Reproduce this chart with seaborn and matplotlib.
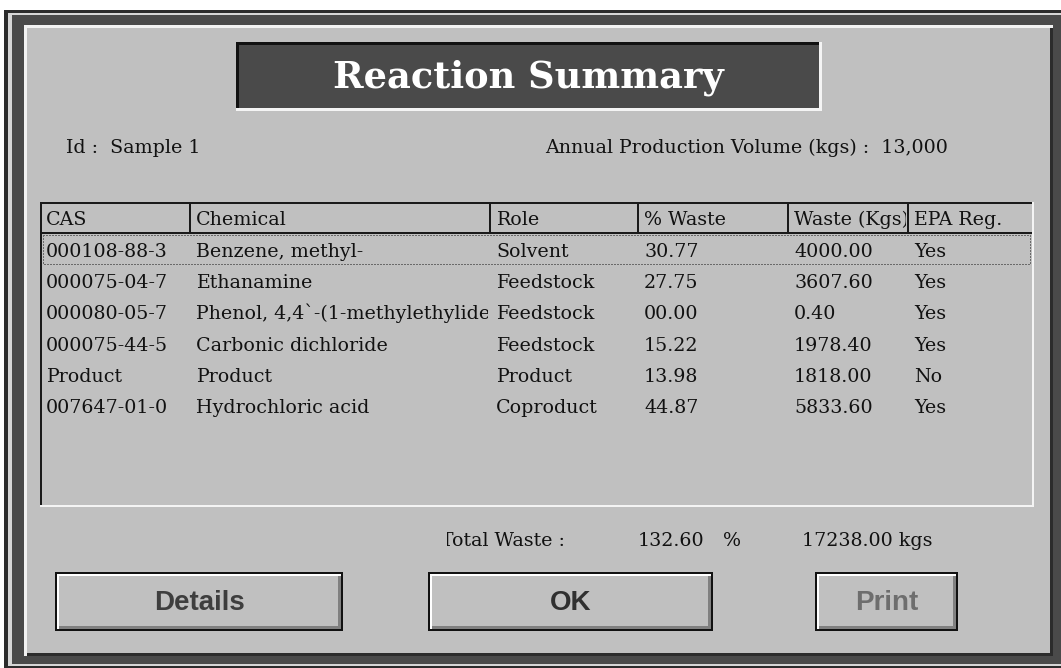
import pandas as pd
import seaborn as sns
import matplotlib.pyplot as plt
from matplotlib.patches import Rectangle
from matplotlib.transforms import Bbox

# Reaction summary data (read from the dialog)
sample_id = 'Sample 1'
annual_volume = '13,000'
headers = ['CAS', 'Chemical', 'Role', '% Waste', 'Waste (Kgs)', 'EPA Reg.']
cas = ['000108-88-3', '000075-04-7', '000080-05-7', '000075-44-5', 'Product', '007647-01-0']
chemicals = ['Benzene, methyl-', 'Ethanamine', 'Phenol, 4,4`-(1-methylethylidene)bis-',
             'Carbonic dichloride', 'Product', 'Hydrochloric acid']
roles = ['Solvent', 'Feedstock', 'Feedstock', 'Feedstock', 'Product', 'Coproduct']
pct_waste = [30.77, 27.75, 0.00, 15.22, 13.98, 44.87]
waste_kgs = [4000.00, 3607.60, 0.40, 1978.40, 1818.00, 5833.60]
epa_reg = ['Yes', 'Yes', 'Yes', 'Yes', 'No', 'Yes']
total_pct = 132.60
total_kgs = 17238.00
buttons = ['Details', 'OK', 'Print']

df = pd.DataFrame({'CAS': cas, 'Chemical': chemicals, 'Role': roles,
                   '% Waste': ['{:05.2f}'.format(v) for v in pct_waste],
                   'Waste (Kgs)': ['{:.2f}'.format(v) for v in waste_kgs],
                   'EPA Reg.': epa_reg})

sns.set_theme(style='white')
plt.rcParams['font.family'] = ['DejaVu Serif']

W, H = 1061, 668
GRAY = '#c0c0c0'
DARK = '#4a4a4a'
SERIF = 13.7

fig = plt.figure(figsize=(W / 100, H / 100), dpi=100)
ax = fig.add_axes([0, 0, 1, 1])
ax.set_xlim(0, W)
ax.set_ylim(H, 0)
ax.axis('off')
fig.patch.set_facecolor('white')


def box(x0, y0, x1, y1, color, **kw):
    ax.add_patch(Rectangle((x0, y0), x1 - x0, y1 - y0, facecolor=color,
                           edgecolor='none', antialiased=False, **kw))


def label(x, y, s, clip=None, **kw):
    kw.setdefault('fontsize', SERIF)
    kw.setdefault('color', '#111111')
    t = ax.text(x, y, s, va='baseline', **kw)
    if clip is not None:
        x0, y0, x1, y1 = clip
        t.set_clip_path(None)
        t.set_clip_box(Bbox.from_extents(x0, H - y1, x1, H - y0))
        t.set_clip_on(True)
    return t


# window frame
box(4, 10, W, H, '#2c2c2c')
box(8, 13, W, 666, '#d6d6d6')
box(12, 15, W, 664, DARK)
box(24, 25, 1053, 656, '#f2f2f2')
box(27, 28, 1053, 656, '#2c2c2c')
box(27, 28, 1050, 653, GRAY)

# title banner
box(236, 42, 822, 111, '#f4f4f4')
box(236, 42, 819, 108, '#111111')
box(239, 45, 819, 108, DARK)
label(528, 87, 'Reaction Summary', ha='center', color='white',
      fontsize=26.5, fontweight='bold')

label(66, 153, 'Id :  ' + sample_id)
label(545, 153, 'Annual Production Volume (kgs) :  ' + annual_volume)

# table
tx0, ty0, tx1, ty1 = 40, 202, 1034, 507
box(tx0, ty0, tx1, ty1, '#f4f4f4')
box(tx0, ty0, tx1 - 2, ty1 - 2, '#1a1a1a')
box(tx0 + 2, ty0 + 2, tx1 - 2, ty1 - 2, GRAY)
col_edges = [tx0, 190, 490, 638, 788, 908, tx1 - 2]
box(tx0 + 2, 232, tx1 - 2, 234, '#1a1a1a')
for cx in col_edges[1:-1]:
    box(cx - 1, ty0 + 2, cx + 1, 233, '#1a1a1a')

for j, h in enumerate(headers):
    label(col_edges[j] + 6, 225, h, clip=(col_edges[j], ty0, col_edges[j + 1] - 2, 233))

row_base = 257
row_step = 31.2
for i, row in df.iterrows():
    y = row_base + i * row_step
    for j, h in enumerate(headers):
        label(col_edges[j] + 6, y, row[h],
              clip=(col_edges[j], 234, col_edges[j + 1] - 2, ty1 - 2))

# focus rectangle around first row
ax.add_patch(Rectangle((43, 235), tx1 - 47, 29, facecolor='none', edgecolor='#6a6a6a',
                       linewidth=0.8, linestyle=(0, (1, 1.5)), antialiased=False))

# totals
label(441, 546, 'Total Waste :', clip=(447, 520, 600, 560))
label(638, 546, '{:.2f}'.format(total_pct))
label(723, 546, '%')
label(802, 546, '{:.2f} kgs'.format(total_kgs))

# buttons
btn_boxes = [(55, 572, 343, 631), (428, 572, 713, 631), (815, 572, 958, 631)]
btn_colors = ['#3e3e3e', '#303030', '#6e6e6e']
for name, (x0, y0, x1, y1), c in zip(buttons, btn_boxes, btn_colors):
    box(x0, y0, x1, y1, '#111111')
    box(x0 + 2, y0 + 2, x1 - 2, y1 - 2, '#ffffff')
    box(x0 + 4, y0 + 4, x1 - 2, y1 - 2, '#808080')
    box(x0 + 4, y0 + 4, x1 - 5, y1 - 5, GRAY)
    label((x0 + x1) / 2, 610, name, ha='center', color=c, fontsize=20,
          fontweight='bold', family=['Liberation Sans', 'DejaVu Sans'])

fig.savefig('out.png', dpi=100, facecolor='white')
